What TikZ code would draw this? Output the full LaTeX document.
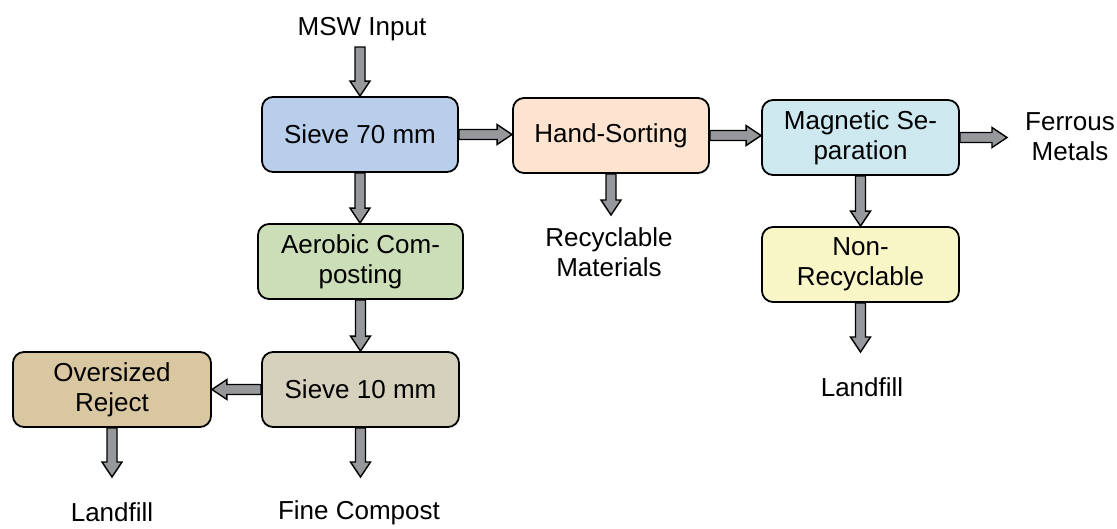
\documentclass[tikz,border=0pt]{standalone}
\usepackage{fontspec}
\setmainfont{Liberation Sans}
\usetikzlibrary{calc}
\definecolor{cblue}{RGB}{184,206,234}
\definecolor{cpeach}{RGB}{253,227,208}
\definecolor{cgreen}{RGB}{203,222,183}
\definecolor{ccyan}{RGB}{205,232,239}
\definecolor{cyellow}{RGB}{248,246,199}
\definecolor{cstone}{RGB}{214,209,189}
\definecolor{ctan}{RGB}{217,199,162}
\definecolor{carrow}{RGB}{150,152,156}
\tikzset{
  box/.style={draw=black, line width=1.8pt, rounded corners=11pt, minimum width=#1, minimum height=75pt, align=center, inner sep=2pt},
  box/.default={197pt},
  lbl/.style={align=center, inner sep=0pt},
  blockarrow/.style={draw=black, fill=carrow, line width=1.4pt, line join=miter,
    to path={
      ($(\tikztostart)!5pt!90:(\tikztotarget)$) --
      ($($(\tikztotarget)!15pt!(\tikztostart)$)!5pt!-90:(\tikztostart)$) --
      ($($(\tikztotarget)!15pt!(\tikztostart)$)!10pt!-90:(\tikztostart)$) --
      (\tikztotarget) --
      ($($(\tikztotarget)!15pt!(\tikztostart)$)!10pt!90:(\tikztostart)$) --
      ($($(\tikztotarget)!15pt!(\tikztostart)$)!5pt!90:(\tikztostart)$) --
      ($(\tikztostart)!5pt!-90:(\tikztotarget)$) -- cycle}}
}
\begin{document}
\begin{tikzpicture}[x=1pt, y=-1pt, font=\fontsize{26}{30}\selectfont]
\useasboundingbox (0,0) rectangle (1117,528);
% boxes
\node[box=196pt, fill=cblue] (s70) at (360,134.5) {Sieve 70 mm};
\node[box=196pt, fill=cpeach] (hand) at (611,135.5) {Hand-Sorting};
\node[box=205pt, fill=cgreen] (aer) at (360.5,261.5) {Aerobic Com-\\posting};
\node[box, fill=ccyan] (mag) at (860.5,137.5) {Magnetic Se-\\paration};
\node[box, fill=cyellow] (non) at (860.5,264.5) {Non-\\Recyclable};
\node[box, fill=cstone] (s10) at (360.5,389.5) {Sieve 10 mm};
\node[box=198pt, fill=ctan] (over) at (112,389.5) {Oversized\\Reject};
% labels
\node[lbl] (msw) at (362,29) {MSW Input};
\node[lbl] (recy) at (609,252) {Recyclable\\Materials};
\node[lbl] (ferr) at (1070,137) {Ferrous\\Metals};
\node[lbl] (lf1) at (862,387) {Landfill};
\node[lbl] (lf2) at (112,512) {Landfill};
\node[lbl] (fine) at (359,513) {Fine Compost};
% free ends
\coordinate (mswa) at (360,47);
\coordinate (recya) at (611,215);
\coordinate (ferra) at (1007,137.5);
\coordinate (lf1a) at (860.5,352);
\coordinate (lf2a) at (112,477);
\coordinate (finea) at (360.5,477);
% arrows
\draw[blockarrow] (mswa) to (s70.north);
\draw[blockarrow] (s70.south) to (s70.south |- aer.north);
\draw[blockarrow] (s70.east) to (s70.east -| hand.west);
\draw[blockarrow] (hand.east) to (hand.east -| mag.west);
\draw[blockarrow] (hand.south) to (recya);
\draw[blockarrow] (mag.east) to (ferra);
\draw[blockarrow] (mag.south) to (non.north);
\draw[blockarrow] (non.south) to (lf1a);
\draw[blockarrow] (aer.south) to (s10.north);
\draw[blockarrow] (s10.west) to (over.east);
\draw[blockarrow] (over.south) to (lf2a);
\draw[blockarrow] (s10.south) to (finea);
\end{tikzpicture}
\end{document}
